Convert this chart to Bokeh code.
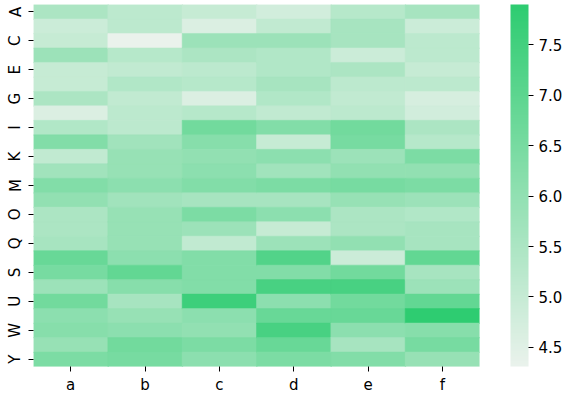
from bokeh.plotting import figure
from bokeh.models import (ColumnDataSource, LinearColorMapper, ColorBar, FixedTicker,
                          Range1d, PrintfTickFormatter)
from bokeh.embed import file_html
from bokeh.resources import INLINE

rows = list("ABCDEFGHIJKLMNOPQRSTUVWXY")
cols = ["a", "b", "c", "d", "e", "f"]

col_a = [5.5, 4.9, 5.0, 5.8, 5.0, 5.0, 5.5, 4.6, 5.4, 6.3, 5.1, 5.7, 6.3, 6.0, 5.5, 5.5, 5.6, 6.8, 6.5, 5.8, 6.6, 6.1, 6.2, 5.9, 6.4]
col_b = [5.2, 5.2, 4.31, 5.3, 5.1, 5.4, 5.1, 5.2, 5.2, 5.7, 5.9, 5.9, 6.1, 5.7, 5.9, 5.9, 5.9, 6.1, 6.9, 6.2, 5.6, 5.9, 6.1, 6.6, 6.5]
col_c = [5.0, 4.6, 5.8, 5.5, 5.2, 5.3, 4.6, 5.3, 6.6, 6.2, 6.0, 6.1, 6.3, 5.6, 6.4, 5.8, 5.1, 6.3, 6.3, 6.3, 7.6, 6.1, 6.0, 6.4, 6.1]
col_d = [4.8, 5.1, 5.8, 5.4, 5.4, 5.6, 5.4, 5.1, 6.3, 5.0, 6.1, 5.7, 6.4, 5.6, 6.1, 5.0, 5.8, 7.2, 6.3, 7.4, 6.1, 6.8, 7.4, 6.8, 6.4]
col_e = [5.3, 5.6, 5.6, 4.9, 5.5, 5.2, 5.1, 5.2, 6.6, 6.5, 5.8, 6.0, 6.5, 5.9, 5.5, 5.5, 6.0, 4.9, 6.6, 7.4, 6.6, 6.8, 6.1, 5.6, 6.3]
col_f = [5.6, 4.9, 5.2, 5.2, 5.0, 5.2, 4.7, 4.8, 5.5, 5.3, 6.4, 6.0, 6.4, 5.8, 5.4, 5.6, 5.6, 6.9, 5.6, 5.8, 6.9, 7.9, 6.2, 6.5, 5.9]
cbar_ticks = [4.5, 5.0, 5.5, 6.0, 6.5, 7.0, 7.5]

columns = [col_a, col_b, col_c, col_d, col_e, col_f]
xs, ys, vals = [], [], []
for ci, cv in enumerate(columns):
    for ri, v in enumerate(cv):
        xs.append(ci)
        ys.append(ri)
        vals.append(v)
src = ColumnDataSource(dict(x=xs, y=ys, v=vals))

# light -> green palette
lo = (234, 242, 236)
hi = (46, 204, 113)
palette = []
for i in range(256):
    t = i / 255
    r = round(lo[0] + (hi[0] - lo[0]) * t)
    g = round(lo[1] + (hi[1] - lo[1]) * t)
    b = round(lo[2] + (hi[2] - lo[2]) * t)
    palette.append("#%02x%02x%02x" % (r, g, b))

all_vals = [v for c in columns for v in c]
mapper = LinearColorMapper(palette=palette, low=min(all_vals), high=max(all_vals))

p = figure(width=576, height=396, output_backend="svg", toolbar_location=None,
           x_range=Range1d(-0.5, len(cols) - 0.5), y_range=Range1d(len(rows) - 0.5, -0.5),
           min_border_left=33, min_border_top=4, min_border_bottom=25, min_border_right=97)
p.rect(x="x", y="y", width=1, height=1, source=src, dilate=True,
       fill_color={"field": "v", "transform": mapper},
       line_color={"field": "v", "transform": mapper}, line_width=0.5)

p.outline_line_color = None
p.grid.visible = False

p.xaxis.ticker = FixedTicker(ticks=list(range(len(cols))))
p.xaxis.major_label_overrides = {i: c for i, c in enumerate(cols)}
p.yaxis.ticker = FixedTicker(ticks=list(range(0, len(rows), 2)))
p.yaxis.major_label_overrides = {i: rows[i] for i in range(0, len(rows), 2)}
p.yaxis.major_label_orientation = "vertical"

for ax in (p.xaxis, p.yaxis):
    ax.axis_line_color = None
    ax.minor_tick_line_color = None
    ax.major_tick_in = 0
    ax.major_tick_out = 5
    ax.major_tick_line_color = "black"
    ax.major_tick_line_width = 1
    ax.major_label_text_font = "DejaVu Sans"
    ax.major_label_text_font_size = "15px"
    ax.major_label_text_color = "black"
    ax.major_label_standoff = 4

cb = ColorBar(color_mapper=mapper, width=18, height="auto", location=(31, 0), padding=0,
              ticker=FixedTicker(ticks=cbar_ticks),
              formatter=PrintfTickFormatter(format="%.1f"),
              major_tick_in=0, major_tick_out=5, major_tick_line_color="black",
              minor_tick_line_color=None, bar_line_color=None,
              border_line_color=None, background_fill_color="white",
              major_label_text_font="DejaVu Sans", major_label_text_font_size="15px",
              major_label_text_color="black", label_standoff=5)
p.add_layout(cb, "right")

open("out.html", "w").write(file_html(p, INLINE))
